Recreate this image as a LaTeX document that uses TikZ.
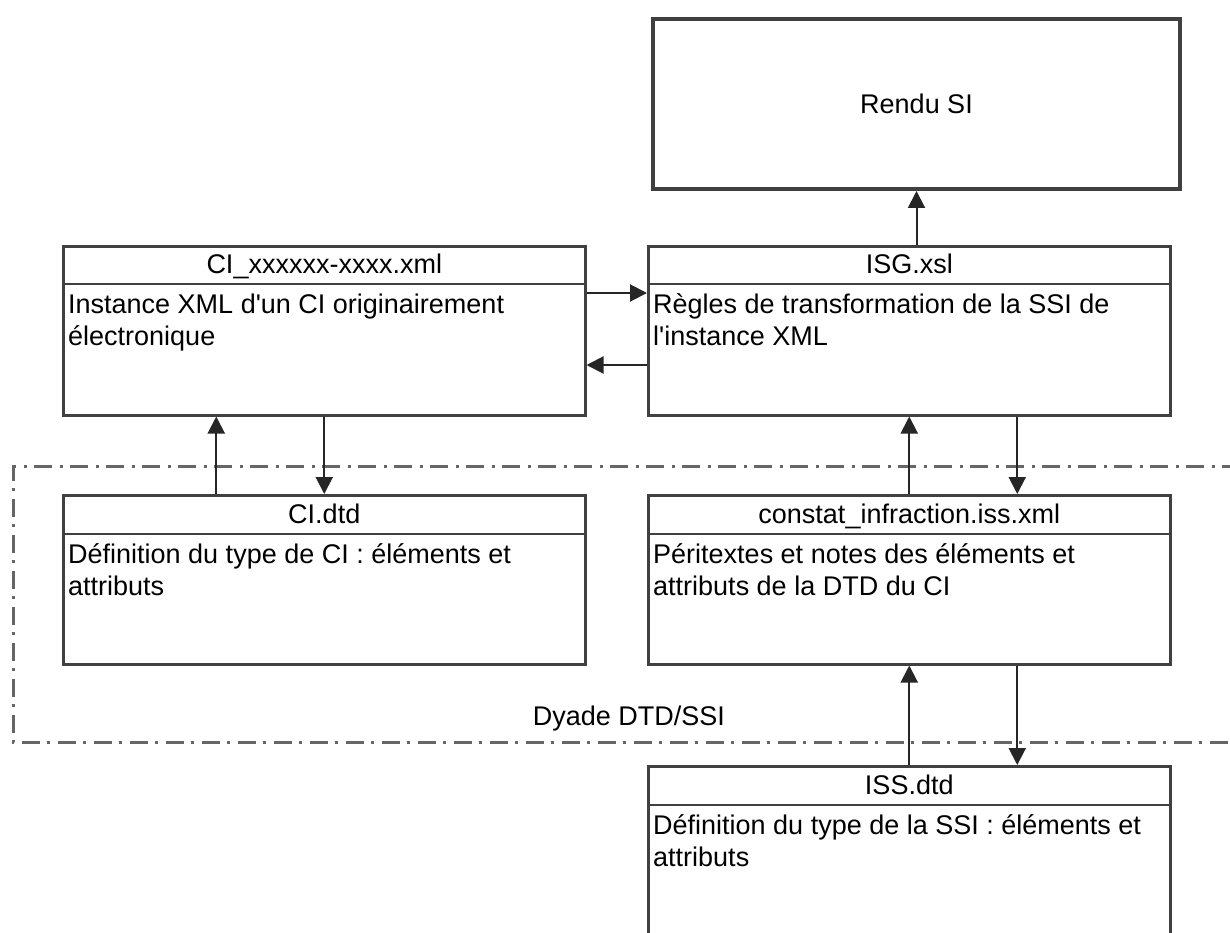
\documentclass[tikz,border=0pt]{standalone}
\usepackage{fontspec}
\setmainfont{Liberation Sans}
\usetikzlibrary{arrows.meta}
\definecolor{boxline}{HTML}{404040}
\definecolor{dyadeline}{HTML}{666666}
\begin{document}
\begin{tikzpicture}[x=1pt,y=-1pt,
  every node/.style={font=\fontsize{27}{32.5}\selectfont},
  docbox/.style={draw=boxline, line width=2.5pt, rectangle, inner sep=0pt,
    anchor=north west, minimum width=522pt},
  headline/.style={draw=boxline, line width=2.5pt},
  titletext/.style={inner sep=0pt, anchor=base},
  bodytext/.style={inner sep=0pt, anchor=north west, align=left},
  flow/.style={draw=black!85, line width=2pt,
    -{Triangle[length=17pt,width=17pt]}},
  dyade/.style={draw=dyadeline, line width=3pt,
    dash pattern=on 18pt off 7pt on 3pt off 8pt}]
\useasboundingbox (0,0) rectangle (1230,933);
\clip (0,0) rectangle (1230,933);
\fill[white] (0,0) rectangle (1230,933);
\newcommand{\firstline}{\rule{0pt}{26pt}}

% group frame of the DTD/SSI pair
\draw[dyade] (1240,466) -- (13,466) -- (13,742) -- (1240,742);
\node[inner sep=0pt, anchor=base] (dyade-label) at (629,725) {Dyade DTD/SSI};

% rendering box
\node[draw=boxline, line width=4pt, rectangle, inner sep=0pt, anchor=north west,
  minimum width=527pt, minimum height=170pt] (rendu) at (651,17) {};
\node[inner sep=0pt] (rendu-t) at (rendu.center) {Rendu SI};

% instance document
\node[docbox, minimum height=169pt] (ci) at (62,245) {};
\draw[headline] ([yshift=-39pt]ci.north west) -- ([yshift=-39pt]ci.north east);
\node[titletext] (ci-t) at ([yshift=-28pt]ci.north) {CI\_xxxxxx-xxxx.xml};
\node[bodytext] (ci-b) at ([xshift=6pt,yshift=-42pt]ci.north west)
  {\firstline Instance XML d\textquotesingle un CI originairement\\électronique};

% stylesheet
\node[docbox, minimum height=169pt] (isg) at (647,245) {};
\draw[headline] ([yshift=-39pt]isg.north west) -- ([yshift=-39pt]isg.north east);
\node[titletext] (isg-t) at ([yshift=-28pt]isg.north) {ISG.xsl};
\node[bodytext] (isg-b) at ([xshift=6pt,yshift=-42pt]isg.north west)
  {\firstline Règles de transformation de la SSI de\\l\textquotesingle instance XML};

% DTD of the instance
\node[docbox, minimum height=169pt] (cidtd) at (62,494) {};
\draw[headline] ([yshift=-40pt]cidtd.north west) -- ([yshift=-40pt]cidtd.north east);
\node[titletext] (cidtd-t) at ([yshift=-29pt]cidtd.north) {CI.dtd};
\node[bodytext] (cidtd-b) at ([xshift=6pt,yshift=-43pt]cidtd.north west)
  {\firstline Définition du type de CI : éléments et\\attributs};

% peritext instance
\node[docbox, minimum height=169pt] (constat) at (647,494) {};
\draw[headline] ([yshift=-40pt]constat.north west) -- ([yshift=-40pt]constat.north east);
\node[titletext] (constat-t) at ([yshift=-29pt]constat.north) {constat\_infraction.iss.xml};
\node[bodytext] (constat-b) at ([xshift=6pt,yshift=-43pt]constat.north west)
  {\firstline Péritextes et notes des éléments et\\attributs de la DTD du CI};

% DTD of the peritexts
\node[docbox, minimum height=200pt] (iss) at (647,765) {};
\draw[headline] ([yshift=-40pt]iss.north west) -- ([yshift=-40pt]iss.north east);
\node[titletext] (iss-t) at ([yshift=-29pt]iss.north) {ISS.dtd};
\node[bodytext] (iss-b) at ([xshift=6pt,yshift=-43pt]iss.north west)
  {\firstline Définition du type de la SSI : éléments et\\attributs};

% connectors
\draw[flow] (rendu.south |- isg.north) -- (rendu.south);
\draw[flow] ([yshift=-48pt]ci.north east) -- ([yshift=-48pt]isg.north west);
\draw[flow] ([yshift=-120pt]isg.north west) -- ([yshift=-120pt]ci.north east);
\draw[flow] ([xshift=-108pt]cidtd.north) -- ([xshift=-108pt]ci.south);
\draw[flow] (ci.south) -- (cidtd.north);
\draw[flow] (constat.north) -- (isg.south);
\draw[flow] ([xshift=108pt]isg.south) -- ([xshift=108pt]constat.north);
\draw[flow] (iss.north) -- (constat.south);
\draw[flow] ([xshift=108pt]constat.south) -- ([xshift=108pt]iss.north);
\end{tikzpicture}
\end{document}
